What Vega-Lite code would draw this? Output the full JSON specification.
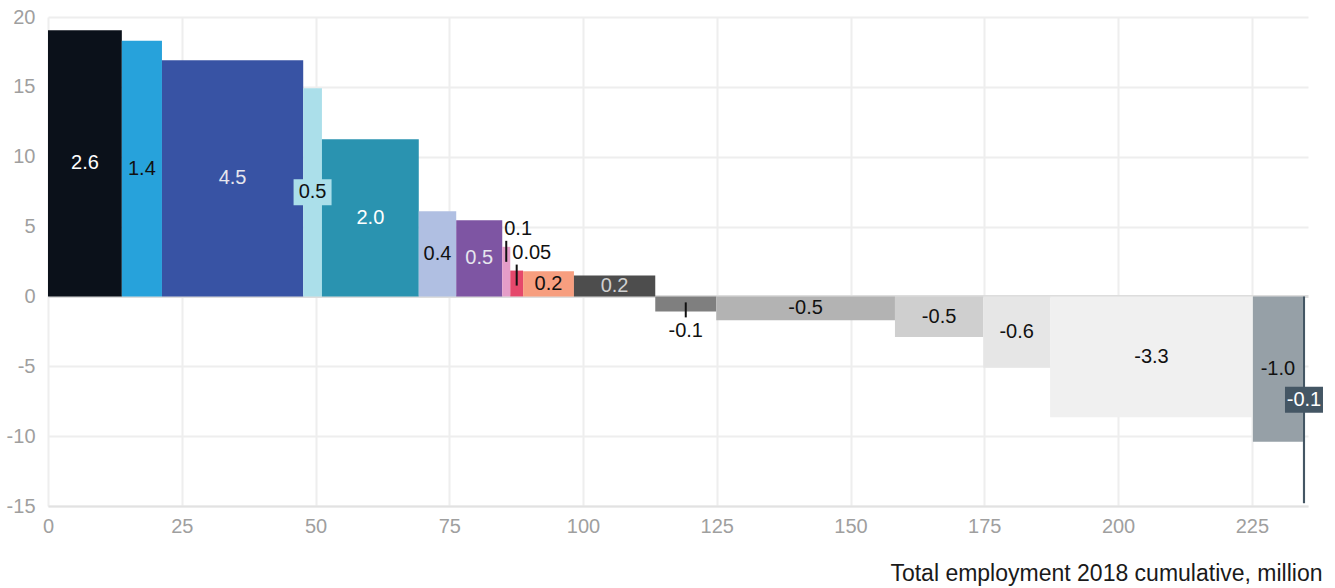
{
  "$schema": "https://vega.github.io/schema/vega-lite/v6.json",
  "width": 1260,
  "height": 489,
  "autosize": {"type": "none"},
  "padding": {"left": 48, "top": 17, "right": 27, "bottom": 82},
  "background": "white",
  "config": {
    "view": {"stroke": null},
    "font": "Liberation Sans",
    "axis": {
      "labelFont": "Liberation Sans",
      "labelFontSize": 20,
      "labelColor": "#9f9f9f",
      "gridColor": "#eeeeee",
      "gridWidth": 2,
      "ticks": false,
      "domain": false,
      "titleFont": "Liberation Sans"
    }
  },
  "data": {
    "values": [
      {"id": 1, "x0": 0, "x1": 13.8, "value": 19.05, "label": "2.6", "pos": "inside"},
      {"id": 2, "x0": 13.8, "x1": 21.3, "value": 18.3, "label": "1.4", "pos": "inside"},
      {"id": 3, "x0": 21.3, "x1": 47.7, "value": 16.9, "label": "4.5", "pos": "inside"},
      {"id": 4, "x0": 47.7, "x1": 51.2, "value": 14.9, "label": "0.5", "pos": "boxed"},
      {"id": 5, "x0": 51.2, "x1": 69.3, "value": 11.25, "label": "2.0", "pos": "inside"},
      {"id": 6, "x0": 69.3, "x1": 76.3, "value": 6.1, "label": "0.4", "pos": "inside"},
      {"id": 7, "x0": 76.3, "x1": 84.9, "value": 5.45, "label": "0.5", "pos": "inside"},
      {"id": 8, "x0": 84.9, "x1": 86.4, "value": 3.55, "label": "0.1", "pos": "above"},
      {"id": 9, "x0": 86.4, "x1": 88.8, "value": 1.85, "label": "0.05", "pos": "above"},
      {"id": 10, "x0": 88.8, "x1": 98.3, "value": 1.8, "label": "0.2", "pos": "inside"},
      {"id": 11, "x0": 98.3, "x1": 113.5, "value": 1.5, "label": "0.2", "pos": "inside"},
      {"id": 12, "x0": 113.5, "x1": 124.9, "value": -1.07, "label": "-0.1", "pos": "below"},
      {"id": 13, "x0": 124.9, "x1": 158.3, "value": -1.7, "label": "-0.5", "pos": "inside"},
      {"id": 14, "x0": 158.3, "x1": 174.8, "value": -2.9, "label": "-0.5", "pos": "inside"},
      {"id": 15, "x0": 174.8, "x1": 187.3, "value": -5.1, "label": "-0.6", "pos": "inside"},
      {"id": 16, "x0": 187.3, "x1": 225.2, "value": -8.65, "label": "-3.3", "pos": "inside"},
      {"id": 17, "x0": 225.2, "x1": 234.55, "value": -10.4, "label": "-1.0", "pos": "inside"},
      {"id": 18, "x0": 234.55, "x1": 234.95, "value": -14.8, "label": "-0.1", "pos": "boxed"}
    ]
  },
  "transform": [
    {"calculate": "(datum.x0 + datum.x1) / 2", "as": "xm"},
    {"calculate": "datum.value / 2", "as": "ym"}
  ],
  "encoding": {
    "x": {
      "field": "x0",
      "type": "quantitative",
      "scale": {"domain": [0, 235.5], "nice": false, "zero": false},
      "axis": {
        "title": "Total employment 2018 cumulative, million",
        "values": [0, 25, 50, 75, 100, 125, 150, 175, 200, 225],
        "domain": true,
        "domainColor": "#e2e2e2",
        "domainWidth": 2,
        "labelPadding": 10,
        "labelFlush": false,
        "titleAnchor": "end",
        "titleAlign": "right",
        "titleX": 1274,
        "titleY": 74,
        "titleBaseline": "alphabetic",
        "titleFontSize": 23,
        "titleFontWeight": "normal",
        "titleColor": "#1a1a1a"
      }
    },
    "y": {
      "field": "value",
      "type": "quantitative",
      "scale": {"domain": [-15, 20], "nice": false},
      "axis": {
        "title": null,
        "values": [-15, -10, -5, 0, 5, 10, 15, 20],
        "labelPadding": 13,
        "labelExpr": "'' + datum.value",
        "gridColor": {"condition": {"test": "datum.value === 0", "value": "#dddddd"}, "value": "#eeeeee"},
        "gridWidth": {"condition": {"test": "datum.value === 0", "value": 3}, "value": 2}
      }
    }
  },
  "layer": [
    {
      "mark": {"type": "rect"},
      "encoding": {
        "x2": {"field": "x1"},
        "y2": {"datum": 0},
        "fill": {
          "field": "id",
          "type": "nominal",
          "legend": null,
          "scale": {
            "domain": [1, 2, 3, 4, 5, 6, 7, 8, 9, 10, 11, 12, 13, 14, 15, 16, 17, 18],
            "range": ["#0B111A", "#27A2DB", "#3853A4", "#ABDFEA", "#2A93B0", "#B0BFE2", "#7E55A3", "#E59DC8", "#E5486B", "#F79E7F", "#4D4D4D", "#7F7F7F", "#B3B3B3", "#CFCFCF", "#E6E6E6", "#F0F0F0", "#96A0A7", "#445664"]
          }
        }
      }
    },
    {
      "transform": [{"filter": "datum.pos === 'boxed'"}],
      "mark": {"type": "rect", "xOffset": -19, "x2Offset": 19, "yOffset": -13, "y2Offset": 13},
      "encoding": {
        "x": {"field": "xm", "type": "quantitative", "title": "Total employment 2018 cumulative, million"},
        "x2": {"field": "xm"},
        "y": {"field": "ym", "type": "quantitative", "title": null},
        "y2": {"field": "ym"},
        "fill": {"field": "id", "type": "nominal", "legend": null}
      }
    },
    {
      "transform": [{"filter": "datum.pos === 'inside' || datum.pos === 'boxed'"}],
      "mark": {"type": "text", "fontSize": 20, "font": "Liberation Sans", "align": "center", "baseline": "middle"},
      "encoding": {
        "x": {"field": "xm", "type": "quantitative", "title": "Total employment 2018 cumulative, million"},
        "y": {"field": "ym", "type": "quantitative", "title": null},
        "text": {"field": "label"},
        "color": {
          "condition": [
            {"test": "datum.id === 1 || datum.id === 5 || datum.id === 18", "value": "#ffffff"},
            {"test": "datum.id === 3 || datum.id === 7", "value": "#e6e6ee"},
            {"test": "datum.id === 11", "value": "#d0d0d0"}
          ],
          "value": "#111111"
        }
      }
    },
    {
      "transform": [{"filter": "datum.pos === 'above'"}],
      "mark": {"type": "text", "fontSize": 20, "font": "Liberation Sans", "align": "left", "baseline": "middle", "dx": 2, "dy": -18, "color": "#111111"},
      "encoding": {
        "y": {"field": "value", "type": "quantitative", "title": null},
        "text": {"field": "label"}
      }
    },
    {
      "transform": [{"filter": "datum.pos === 'above'"}],
      "mark": {"type": "rule", "color": "#111111", "strokeWidth": 2, "yOffset": -6, "y2Offset": 15},
      "encoding": {
        "x": {"field": "xm", "type": "quantitative", "title": "Total employment 2018 cumulative, million"},
        "y": {"field": "value", "type": "quantitative", "title": null},
        "y2": {"field": "value"}
      }
    },
    {
      "transform": [{"filter": "datum.pos === 'below'"}],
      "mark": {"type": "text", "fontSize": 20, "font": "Liberation Sans", "align": "center", "baseline": "middle", "dy": 20, "color": "#111111"},
      "encoding": {
        "x": {"field": "xm", "type": "quantitative", "title": "Total employment 2018 cumulative, million"},
        "y": {"field": "value", "type": "quantitative", "title": null},
        "text": {"field": "label"}
      }
    },
    {
      "transform": [{"filter": "datum.pos === 'below'"}],
      "mark": {"type": "rule", "color": "#111111", "strokeWidth": 2, "yOffset": -9, "y2Offset": 6},
      "encoding": {
        "x": {"field": "xm", "type": "quantitative", "title": "Total employment 2018 cumulative, million"},
        "y": {"field": "value", "type": "quantitative", "title": null},
        "y2": {"field": "value"}
      }
    }
  ]
}
